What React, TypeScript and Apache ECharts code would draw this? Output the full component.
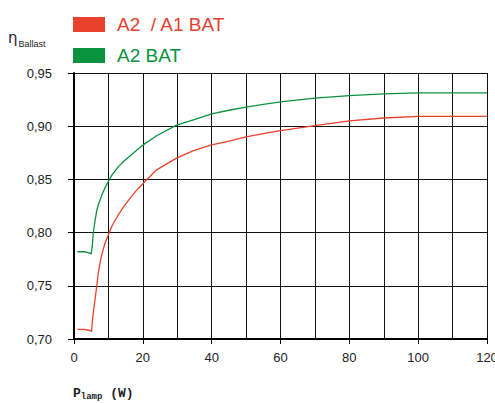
import React, { useEffect, useRef } from "react";
import * as echarts from "echarts";

const redPowerW = [1, 3, 4.6, 5.1, 5.3, 5.6, 6.1, 6.6, 7.06, 7.56, 8.05, 9, 10, 11, 12.9, 14.8, 17.7, 20.6, 24, 29.8, 34.7, 40, 45, 50, 55, 60, 70, 80, 90, 100, 110, 120];
const a2a1Bat = [0.709, 0.709, 0.708, 0.707, 0.715, 0.7246, 0.737, 0.7495, 0.762, 0.7715, 0.779, 0.790, 0.798, 0.806, 0.817, 0.826, 0.838, 0.848, 0.859, 0.870, 0.877, 0.8825, 0.886, 0.890, 0.893, 0.8958, 0.9005, 0.905, 0.9077, 0.9092, 0.9092, 0.9092];
const greenPowerW = [1, 3, 4.4, 5.0, 5.3, 5.6, 6.1, 6.6, 7.06, 8.05, 9, 10, 11, 12.9, 14.8, 17.7, 19.7, 24, 29.8, 34.7, 40, 45, 50, 55, 60, 70, 80, 90, 100, 110, 120];
const a2Bat = [0.782, 0.782, 0.781, 0.780, 0.787, 0.7996, 0.811, 0.8205, 0.826, 0.835, 0.842, 0.848, 0.854, 0.862, 0.868, 0.876, 0.8815, 0.891, 0.901, 0.906, 0.9115, 0.915, 0.918, 0.9205, 0.9229, 0.9264, 0.9288, 0.9304, 0.9313, 0.9313, 0.9313];
const seriesNames = ["A2  / A1 BAT", "A2 BAT"];
const seriesColors = ["#e8412c", "#0b923e"];

export default function App() {
  const ref = useRef<HTMLDivElement>(null);
  useEffect(() => {
    if (!ref.current) return;
    const chart = echarts.init(ref.current, null, { renderer: "svg" });
    const lab = { fontFamily: "Liberation Sans, Arial, sans-serif", fontSize: 13, color: "#222" };
    chart.setOption({
      animation: false,
      grid: { left: 74, right: 8, top: 73, bottom: 64, containLabel: false, outerBoundsMode: "none" },
      legend: {
        orient: "vertical",
        left: 73,
        top: 15,
        padding: 0,
        itemWidth: 32,
        itemHeight: 15,
        itemGap: 12,
        icon: "rect",
        data: seriesNames.map((n, i) => ({
          name: n,
          textStyle: { color: seriesColors[i] },
        })),
        textStyle: { fontFamily: "Liberation Sans, Arial, sans-serif", fontSize: 19, lineHeight: 15, padding: [0, 0, 0, 7] },
      },
      xAxis: {
        type: "value",
        min: 0,
        max: 120,
        interval: 20,
        axisLine: { show: true, onZero: false, lineStyle: { color: "#000", width: 2 } },
        axisTick: { show: true, inside: false, length: 5, lineStyle: { color: "#000" } },
        axisLabel: { ...lab, margin: 12 },
        splitLine: { show: true, lineStyle: { color: "#111", width: 1 } },
        minorTick: { show: false, splitNumber: 2 },
        minorSplitLine: { show: true, lineStyle: { color: "#111", width: 1 } },
      },
      yAxis: {
        type: "value",
        min: 0.7,
        max: 0.95,
        interval: 0.05,
        axisLine: { show: true, onZero: false, lineStyle: { color: "#000", width: 2 } },
        axisTick: { show: true, inside: false, length: 6, lineStyle: { color: "#000" } },
        axisLabel: {
          ...lab,
          margin: 22,
          formatter: (v: number) => v.toFixed(2).replace(".", ","),
        },
        splitLine: { show: true, lineStyle: { color: "#111", width: 1 } },
      },
      graphic: [
        {
          type: "text",
          left: 8,
          top: 30,
          style: {
            text: "{a|η}{b|Ballast}",
            rich: {
              a: { fontFamily: "DejaVu Sans, sans-serif", fontSize: 15, fill: "#222" },
              b: { fontFamily: "Liberation Sans, Arial, sans-serif", fontSize: 9, fill: "#222", padding: [12, 0, 0, 1] },
            },
          },
        },
        {
          type: "text",
          left: 73,
          top: 387,
          style: {
            text: "{a|P}{b|lamp}{a| (W)}",
            rich: {
              a: { fontFamily: "Liberation Mono, Courier New, monospace", fontWeight: "bold", fontSize: 13, fill: "#222" },
              b: { fontFamily: "Liberation Mono, Courier New, monospace", fontWeight: "bold", fontSize: 9, fill: "#222", padding: [7, 0, 0, 0] },
            },
          },
        },
      ],
      series: [
        {
          name: seriesNames[0],
          type: "line",
          showSymbol: false,
          symbol: "none",
          lineStyle: { color: seriesColors[0], width: 1.3 },
          itemStyle: { color: seriesColors[0] },
          data: redPowerW.map((x, i) => [x, a2a1Bat[i]]),
        },
        {
          name: seriesNames[1],
          type: "line",
          showSymbol: false,
          symbol: "none",
          lineStyle: { color: seriesColors[1], width: 1.3 },
          itemStyle: { color: seriesColors[1] },
          data: greenPowerW.map((x, i) => [x, a2Bat[i]]),
        },
      ],
    });
    return () => chart.dispose();
  }, []);
  return (
    <div
      ref={ref}
      style={{ position: "absolute", left: 0, top: 0, width: 495, height: 403, background: "#fff" }}
    />
  );
}
